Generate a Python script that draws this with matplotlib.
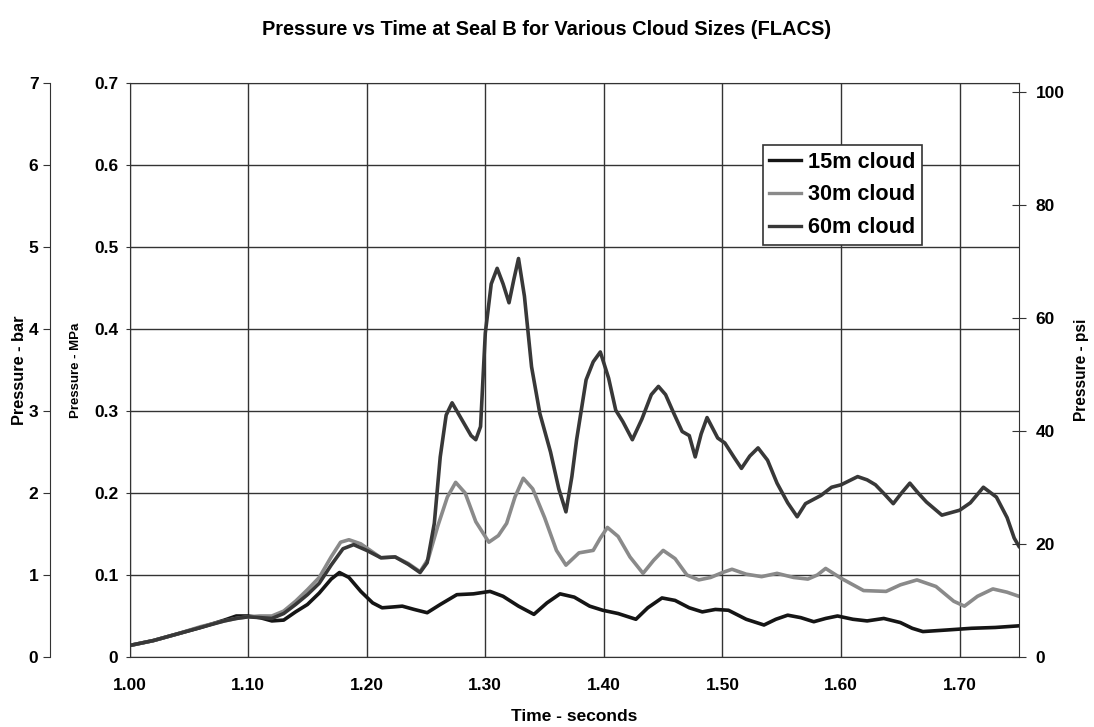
# Pressure vs Time at Seal B for various cloud sizes (FLACS)

import matplotlib.pyplot as plt

plt.rcParams['font.family'] = ['Liberation Sans', 'DejaVu Sans']
plt.rcParams['font.weight'] = 'bold'

# Time (s) and pressure (MPa)
t_15 = [1.00, 1.02, 1.04, 1.06, 1.08, 1.09, 1.10, 1.11, 1.12, 1.13, 1.14, 1.15,
        1.16, 1.17, 1.177, 1.185, 1.195, 1.205, 1.213, 1.222, 1.230, 1.240, 1.251,
        1.262, 1.276, 1.290, 1.304, 1.315, 1.328, 1.341, 1.352, 1.363, 1.375, 1.388,
        1.399, 1.412, 1.427, 1.437, 1.449, 1.460, 1.472, 1.483, 1.494, 1.505, 1.520,
        1.535, 1.545, 1.555, 1.566, 1.577, 1.587, 1.597, 1.610, 1.622, 1.636, 1.650,
        1.660, 1.669, 1.690, 1.710, 1.730, 1.750]
p_15 = [0.014, 0.020, 0.028, 0.036, 0.045, 0.050, 0.050, 0.048, 0.044, 0.045, 0.055, 0.064,
        0.078, 0.095, 0.103, 0.097, 0.080, 0.066, 0.060, 0.061, 0.062, 0.058, 0.054,
        0.064, 0.076, 0.077, 0.080, 0.074, 0.062, 0.052, 0.066, 0.077, 0.073, 0.062,
        0.057, 0.053, 0.046, 0.060, 0.072, 0.069, 0.060, 0.055, 0.058, 0.057, 0.046,
        0.039, 0.046, 0.051, 0.048, 0.043, 0.047, 0.050, 0.046, 0.044, 0.047, 0.042,
        0.035, 0.031, 0.033, 0.035, 0.036, 0.038]

t_30 = [1.00, 1.02, 1.04, 1.06, 1.08, 1.09, 1.10, 1.11, 1.12, 1.13, 1.14, 1.15,
        1.16, 1.17, 1.178, 1.185, 1.195, 1.205, 1.212, 1.224, 1.235, 1.245, 1.252,
        1.260, 1.268, 1.275, 1.283, 1.292, 1.303, 1.311, 1.318, 1.325, 1.332, 1.340,
        1.350, 1.360, 1.368, 1.379, 1.391, 1.397, 1.403, 1.412, 1.422, 1.433, 1.442,
        1.450, 1.460, 1.470, 1.480, 1.490, 1.500, 1.508, 1.520, 1.533, 1.546, 1.560,
        1.572, 1.580, 1.587, 1.600, 1.619, 1.638, 1.650, 1.664, 1.680, 1.695, 1.704,
        1.715, 1.728, 1.740, 1.750]
p_30 = [0.014, 0.020, 0.028, 0.037, 0.044, 0.047, 0.049, 0.050, 0.050, 0.056, 0.068, 0.082,
        0.097, 0.122, 0.140, 0.143, 0.138, 0.128, 0.121, 0.122, 0.114, 0.104, 0.120,
        0.160, 0.195, 0.213, 0.200, 0.165, 0.140, 0.148, 0.163, 0.195, 0.218, 0.205,
        0.170, 0.130, 0.112, 0.127, 0.130, 0.145, 0.158, 0.147, 0.122, 0.102, 0.118,
        0.130, 0.120, 0.100, 0.094, 0.097, 0.103, 0.107, 0.101, 0.098, 0.102, 0.097,
        0.095, 0.100, 0.108, 0.096, 0.081, 0.080, 0.088, 0.094, 0.086, 0.068, 0.062,
        0.074, 0.083, 0.079, 0.074]

t_60 = [1.00, 1.02, 1.04, 1.06, 1.08, 1.09, 1.10, 1.11, 1.12, 1.13, 1.14, 1.15,
        1.16, 1.17, 1.180, 1.189, 1.200, 1.212, 1.224, 1.235, 1.245, 1.251, 1.257,
        1.262, 1.267, 1.272, 1.280, 1.288, 1.292, 1.296, 1.300, 1.305, 1.310, 1.315,
        1.320, 1.324, 1.328, 1.333, 1.339, 1.346, 1.355, 1.362, 1.368, 1.373, 1.377,
        1.385, 1.391, 1.397, 1.404, 1.410, 1.416, 1.424, 1.432, 1.440, 1.446, 1.452,
        1.459, 1.466, 1.472, 1.477, 1.482, 1.487, 1.496, 1.502, 1.510, 1.516, 1.523,
        1.530, 1.538, 1.546, 1.555, 1.563, 1.570, 1.583, 1.592, 1.600, 1.607, 1.614,
        1.622, 1.629, 1.637, 1.644, 1.651, 1.658, 1.665, 1.672, 1.685, 1.700, 1.709,
        1.720, 1.731, 1.740, 1.746, 1.750]
p_60 = [0.014, 0.020, 0.028, 0.036, 0.044, 0.047, 0.049, 0.048, 0.047, 0.053, 0.064, 0.076,
        0.090, 0.112, 0.132, 0.137, 0.130, 0.121, 0.122, 0.113, 0.103, 0.115, 0.163,
        0.244, 0.295, 0.310, 0.290, 0.270, 0.265, 0.281, 0.395, 0.455, 0.474, 0.455,
        0.432, 0.460, 0.486, 0.440, 0.354, 0.297, 0.250, 0.205, 0.177, 0.220, 0.265,
        0.338, 0.360, 0.372, 0.340, 0.301, 0.287, 0.265, 0.290, 0.320, 0.330, 0.320,
        0.297, 0.275, 0.270, 0.244, 0.272, 0.292, 0.267, 0.261, 0.243, 0.230, 0.245,
        0.255, 0.240, 0.212, 0.188, 0.171, 0.187, 0.197, 0.207, 0.210, 0.215, 0.220,
        0.216, 0.210, 0.198, 0.187, 0.200, 0.212, 0.200, 0.189, 0.173, 0.179, 0.188,
        0.207, 0.195, 0.170, 0.145, 0.135]

x_ticks = [1.00, 1.10, 1.20, 1.30, 1.40, 1.50, 1.60, 1.70]
mpa_ticks = [0, 0.1, 0.2, 0.3, 0.4, 0.5, 0.6, 0.7]
bar_ticks = [0, 1, 2, 3, 4, 5, 6, 7]
psi_ticks = [0, 20, 40, 60, 80, 100]
MPA_TO_PSI = 145.038

fig = plt.figure(figsize=(10.94, 7.27), dpi=100)
ax = fig.add_axes([0.1184, 0.0963, 0.8130, 0.7895])

ax.plot(t_15, p_15, color='#151515', lw=2.6, label='15m cloud', solid_joinstyle='round')
ax.plot(t_30, p_30, color='#8a8a8a', lw=2.6, label='30m cloud', solid_joinstyle='round')
ax.plot(t_60, p_60, color='#383838', lw=2.6, label='60m cloud', solid_joinstyle='round')

ax.set_xlim(1.0, 1.75)
ax.set_ylim(0, 0.7)
ax.set_xticks(x_ticks)
ax.set_xticklabels([f'{v:.2f}' for v in x_ticks])
ax.set_yticks(mpa_ticks)
ax.set_yticklabels(['0'] + [f'{v:.1f}' for v in mpa_ticks[1:]])
ax.grid(True, color='#333333', lw=1.0)
ax.tick_params(axis='both', labelsize=12.5, color='#333333')
ax.tick_params(axis='y', length=3, pad=5)
ax.tick_params(axis='x', length=0, pad=15)
for s in ax.spines.values():
    s.set_color('#333333')
ax.set_xlabel('Time - seconds', fontsize=12.5, fontweight='bold', labelpad=12)
ax.set_ylabel('Pressure - MPa', fontsize=9.5, fontweight='bold', labelpad=9)

# Outer left axis in bar
ax_bar = ax.twinx()
ax_bar.set_ylim(0, 7)
ax_bar.set_yticks(bar_ticks)
ax_bar.yaxis.set_ticks_position('left')
ax_bar.yaxis.set_label_position('left')
ax_bar.spines['left'].set_position(('axes', -80 / 889.5))
ax_bar.spines['left'].set_visible(True)
ax_bar.spines['right'].set_visible(False)
ax_bar.spines['top'].set_visible(False)
ax_bar.spines['bottom'].set_visible(False)
ax_bar.spines['left'].set_color('#333333')
ax_bar.tick_params(axis='y', labelsize=12.5, length=5, pad=3, color='#333333')
ax_bar.set_ylabel('Pressure - bar', fontsize=11.8, fontweight='bold', labelpad=1)

# Right axis in psi
ax_psi = ax.twinx()
ax_psi.set_ylim(0, 0.7 * MPA_TO_PSI)
ax_psi.set_yticks(psi_ticks)
ax_psi.tick_params(axis='y', labelsize=12.5, direction='inout', length=10, color='#333333', pad=7)
ax_psi.set_ylabel('Pressure - psi', fontsize=11.2, fontweight='bold', labelpad=7)
for s in ax_psi.spines.values():
    s.set_visible(False)

leg = ax.legend(loc='upper left', bbox_to_anchor=(0.712, 0.892), fontsize=15.6,
                frameon=True, fancybox=False, edgecolor='#333333', framealpha=1,
                handlelength=1.45, handletextpad=0.35, borderpad=0.3, labelspacing=0.55,
                borderaxespad=0)
leg.get_frame().set_linewidth(1.2)
for line in leg.get_lines():
    line.set_linewidth(2.4)

fig.suptitle('Pressure vs Time at Seal B for Various Cloud Sizes (FLACS)',
             fontsize=14.4, fontweight='bold', y=0.972, va='top')

fig.savefig('out.png', dpi=100)
